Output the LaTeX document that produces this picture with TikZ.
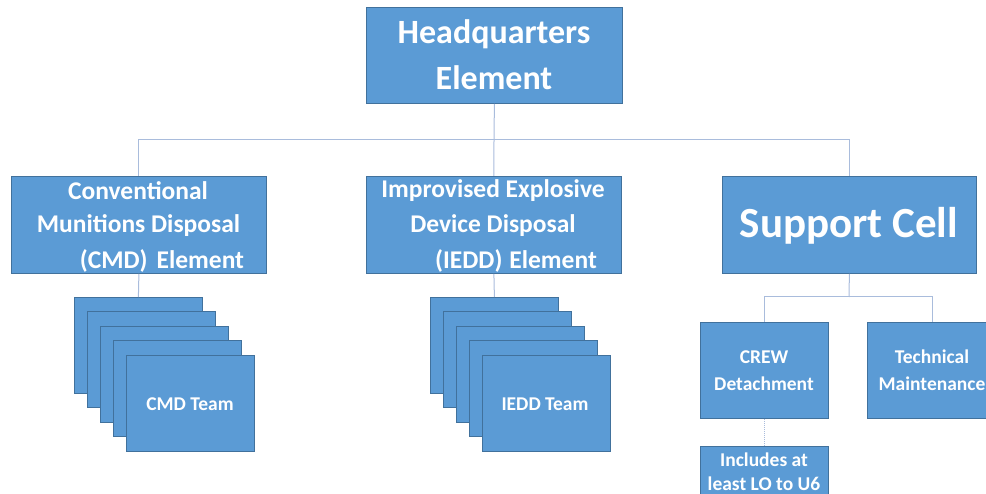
\documentclass[tikz,border=0pt]{standalone}
\usepackage{fontspec}
\setmainfont{Carlito}
\definecolor{boxfill}{HTML}{5B9BD5}
\definecolor{boxline}{HTML}{41719C}
\definecolor{conn}{HTML}{A9BCDC}
\begin{document}
\begin{tikzpicture}[x=1pt,y=-1pt,
  box/.style={draw=boxline,fill=boxfill,line width=0.8pt,inner sep=0pt,anchor=north west},
  txt/.style={text=white,font=\bfseries,inner sep=0pt},
  conn/.style={draw=conn,line width=1pt}]
\useasboundingbox (0,0) rectangle (986,494);
\clip (0,0) rectangle (986,494);
% boxes
\node[box,minimum width=256pt,minimum height=96pt] (hq) at (366,7) {};
\node[box,minimum width=255pt,minimum height=97pt] (cmd) at (11,176) {};
\node[box,minimum width=255pt,minimum height=97pt] (iedd) at (366,176) {};
\node[box,minimum width=254pt,minimum height=97pt] (sup) at (722,176) {};
% connectors top
\coordinate (hbar) at (494,140);
\draw[conn] (hq.south) -- (hbar);
\draw[conn] (hbar) -| (cmd.north);
\draw[conn] (hbar) -| (sup.north);
\draw[conn] (hbar) -- (iedd.north);
% stacks
\foreach \i in {0,...,4}{
  \node[box,minimum width=128pt,minimum height=96pt] (cmdt\i) at ({74+13*\i},{297+14.5*\i}) {};
  \node[box,minimum width=128pt,minimum height=96pt] (ieddt\i) at ({430+13*\i},{297+14.5*\i}) {};
}
\draw[conn] (cmd.south) -- (cmdt0.north);
\draw[conn] (iedd.south) -- (ieddt0.north);
% support children
\node[box,minimum width=128pt,minimum height=96pt] (crew) at (700,322) {};
\node[box,minimum width=130pt,minimum height=96pt] (tech) at (867,322) {};
\node[box,minimum width=128pt,minimum height=70pt] (incl) at (700,446) {};
\coordinate (sbar) at (849,297);
\draw[conn] (sup.south) -- (sbar);
\draw[conn] (sbar) -| (crew.north);
\draw[conn] (sbar) -| (tech.north);
\draw[conn,dashed,dash pattern=on 1pt off 1pt,line width=0.7pt] (crew.south) -- (incl.north);
% texts
\node[txt,font=\bfseries\fontsize{34}{40}\selectfont] (hqa) at (494,34) {Headquarters};
\node[txt,font=\bfseries\fontsize{34}{40}\selectfont] (hqb) at (494,78) {Element};
\node[txt,font=\bfseries\fontsize{25.5}{30}\selectfont] (cmda) at (138,191) {Conventional};
\node[txt,font=\bfseries\fontsize{25.5}{30}\selectfont] (cmdb) at (138.5,226) {Munitions Disposal};
\node[txt,font=\bfseries\fontsize{25.5}{30}\selectfont] (cmdc) at (162,261) {(CMD)\hspace{9pt}Element};
\node[txt,font=\bfseries\fontsize{25.5}{30}\selectfont] (ieda) at (493,191) {Improvised Explosive};
\node[txt,font=\bfseries\fontsize{25.5}{30}\selectfont] (iedb) at (493,226) {Device Disposal};
\node[txt,font=\bfseries\fontsize{25.5}{30}\selectfont] (iedc) at (516,261) {(IEDD)\hspace{7pt}Element};
\node[txt,font=\bfseries\fontsize{43}{50}\selectfont] (supt) at (849,226) {Support Cell};
\node[txt,font=\bfseries\fontsize{19.5}{24}\selectfont] (cmdtt) at (190,404) {CMD Team};
\node[txt,font=\bfseries\fontsize{19.5}{24}\selectfont] (iedtt) at (545,404) {IEDD Team};
\node[txt,font=\bfseries\fontsize{19.5}{24}\selectfont] (crewa) at (764,357) {CREW};
\node[txt,font=\bfseries\fontsize{19.5}{24}\selectfont] (crewb) at (764,384) {Detachment};
\node[txt,font=\bfseries\fontsize{19.5}{24}\selectfont] (techa) at (932,357) {Technical};
\node[txt,font=\bfseries\fontsize{19.5}{24}\selectfont] (techb) at (932,384) {Maintenance};
\node[txt,font=\bfseries\fontsize{19.5}{24}\selectfont] (incla) at (764,460) {Includes at};
\node[txt,font=\bfseries\fontsize{19.5}{24}\selectfont] (inclb) at (764,484) {least LO to U6};
\end{tikzpicture}
\end{document}
